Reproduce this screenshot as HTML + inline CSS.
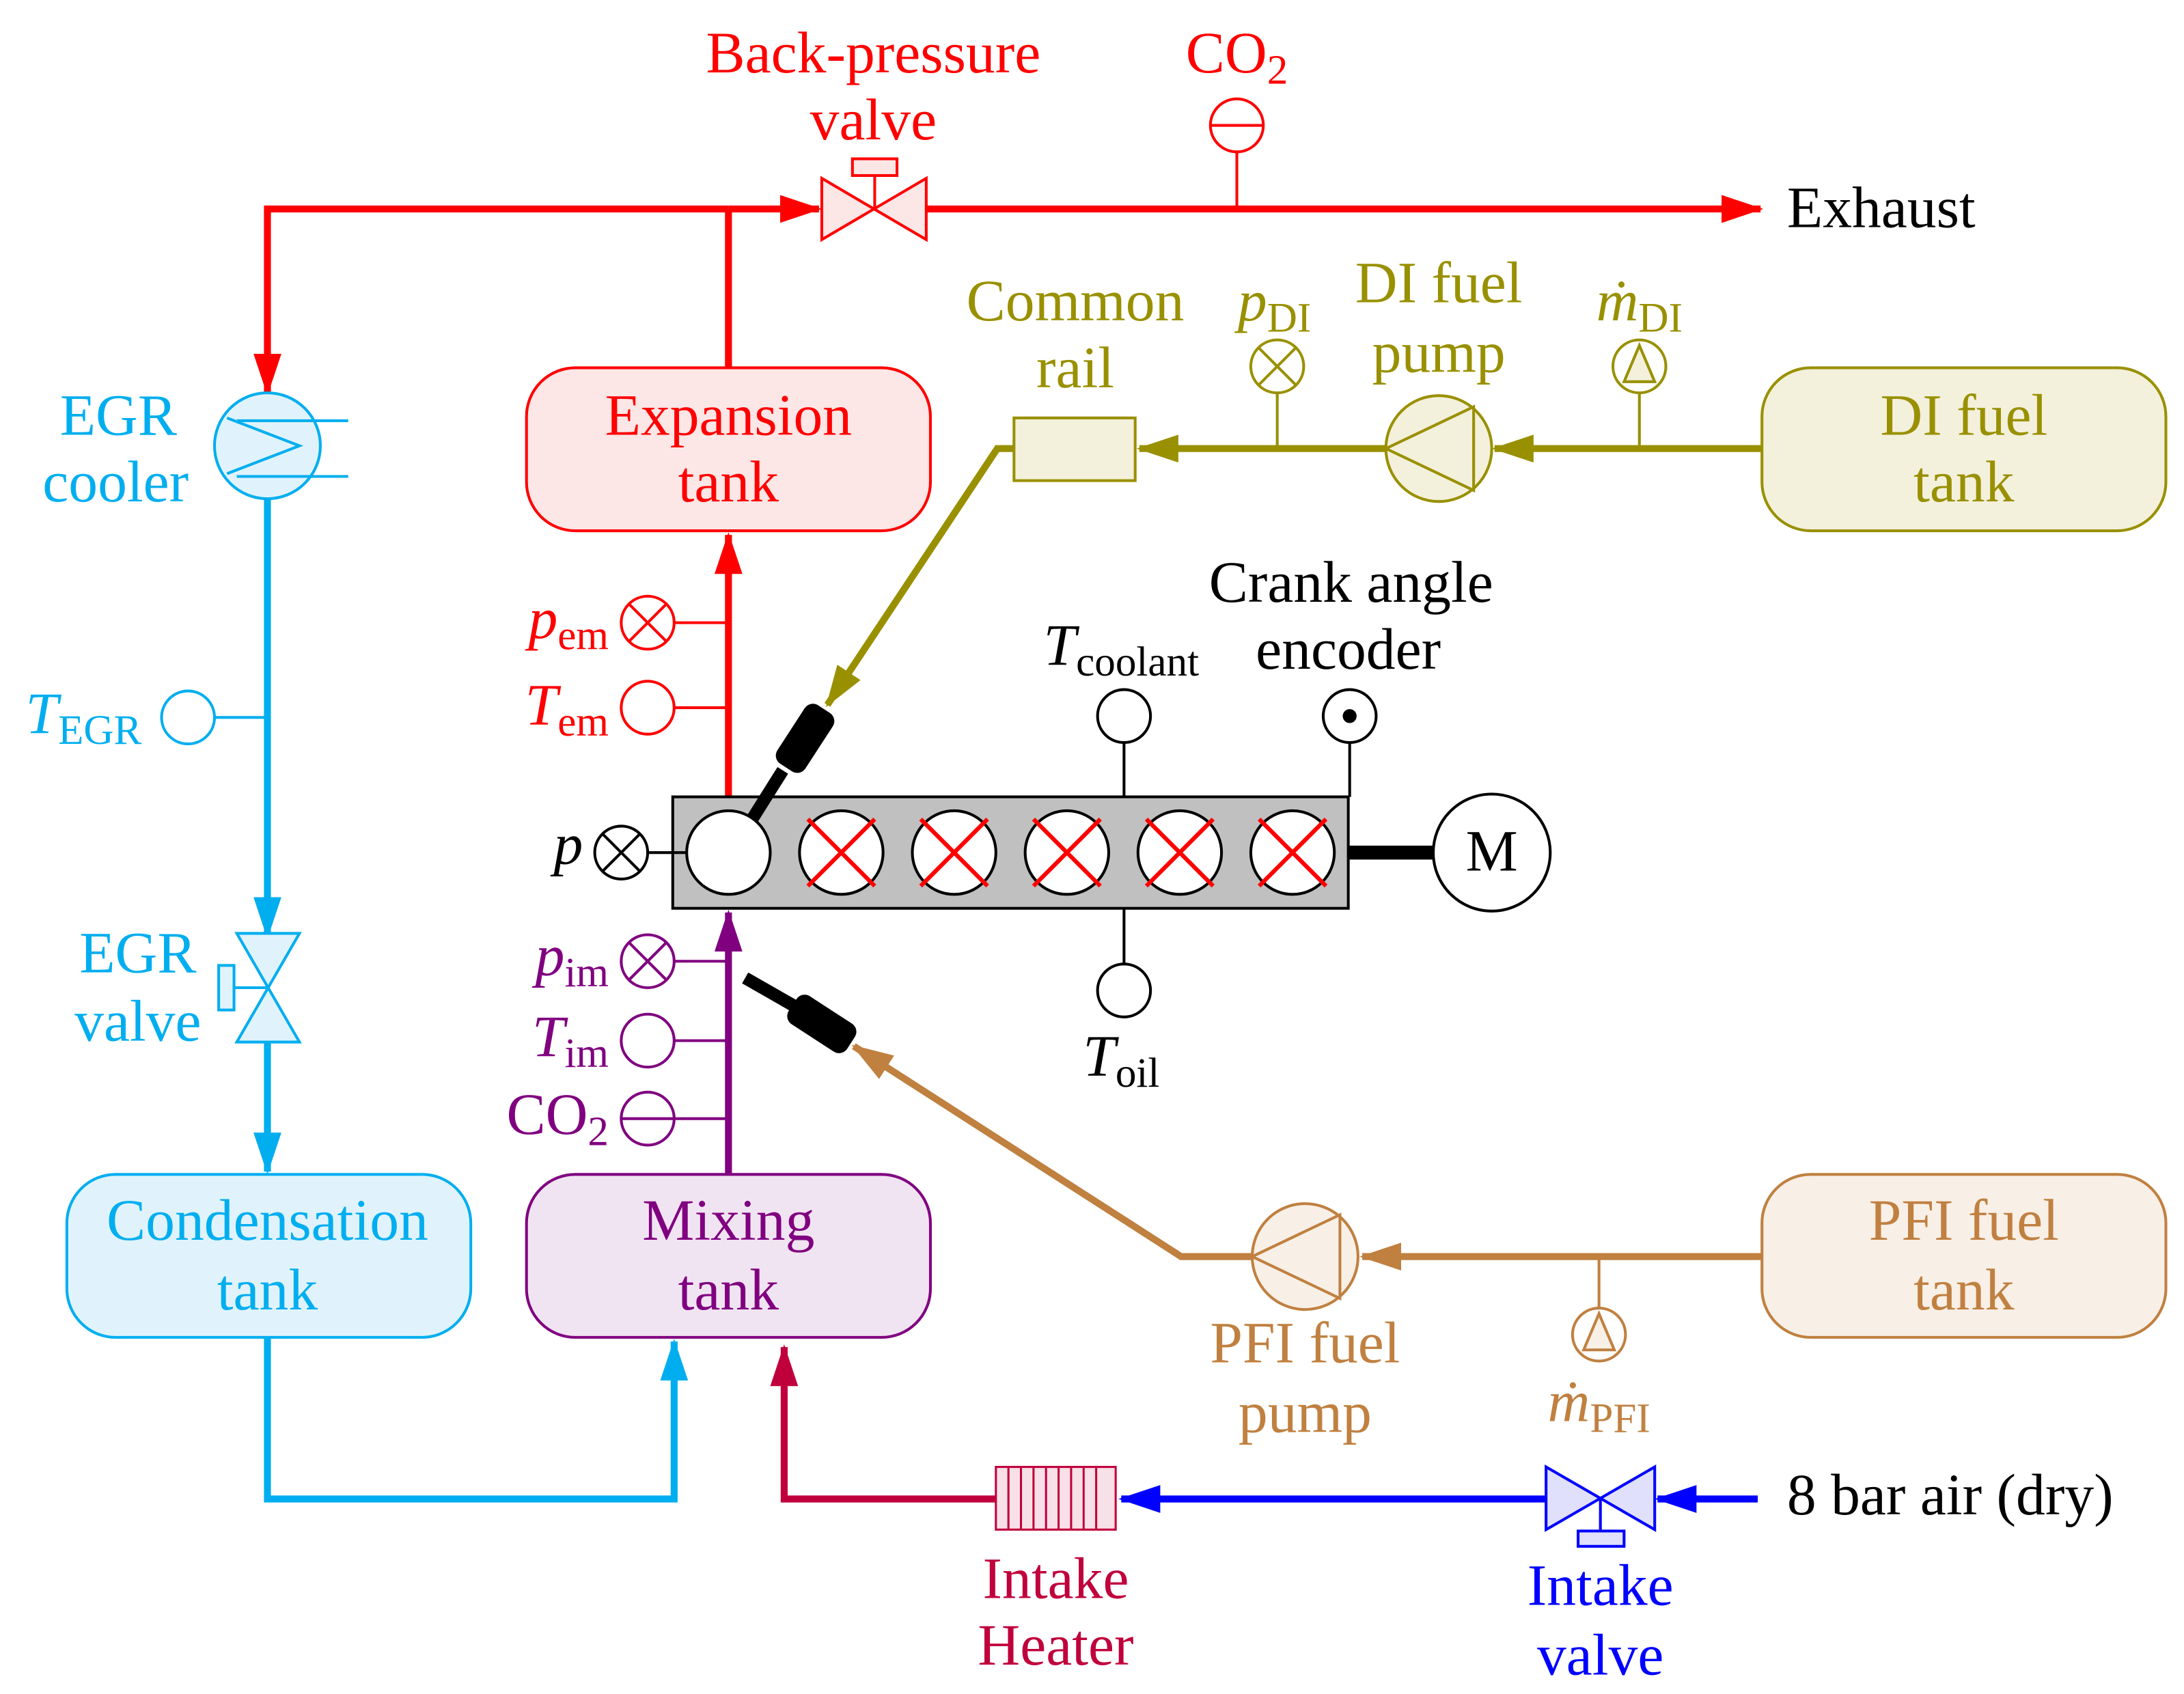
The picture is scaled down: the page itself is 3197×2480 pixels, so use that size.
<!DOCTYPE html>
<html><head><meta charset="utf-8"><style>
html,body{margin:0;padding:0;background:#fff}
svg{display:block}
text{font-family:"Liberation Serif",serif;font-size:42px}
</style></head><body>
<svg width="3197" height="2480" viewBox="0 0 1568 1216" preserveAspectRatio="none" xmlns="http://www.w3.org/2000/svg">
<defs>
<marker id="aR" markerUnits="userSpaceOnUse" markerWidth="30" markerHeight="22" refX="28" refY="10" orient="auto"><path d="M0,0L30,10L0,20z" fill="#ff0000"/></marker>
<marker id="aO" markerUnits="userSpaceOnUse" markerWidth="30" markerHeight="22" refX="28" refY="10" orient="auto"><path d="M0,0L30,10L0,20z" fill="#999000"/></marker>
<marker id="aP" markerUnits="userSpaceOnUse" markerWidth="30" markerHeight="22" refX="28" refY="10" orient="auto"><path d="M0,0L30,10L0,20z" fill="#800080"/></marker>
<marker id="aB" markerUnits="userSpaceOnUse" markerWidth="30" markerHeight="22" refX="28" refY="10" orient="auto"><path d="M0,0L30,10L0,20z" fill="#c08040"/></marker>
<marker id="aC" markerUnits="userSpaceOnUse" markerWidth="30" markerHeight="22" refX="28" refY="10" orient="auto"><path d="M0,0L30,10L0,20z" fill="#00aeef"/></marker>
<marker id="aM" markerUnits="userSpaceOnUse" markerWidth="30" markerHeight="22" refX="28" refY="10" orient="auto"><path d="M0,0L30,10L0,20z" fill="#c0003c"/></marker>
<marker id="aU" markerUnits="userSpaceOnUse" markerWidth="30" markerHeight="22" refX="28" refY="10" orient="auto"><path d="M0,0L30,10L0,20z" fill="#0000ff"/></marker>
</defs>

<!-- RED exhaust -->
<g stroke="#ff0000" stroke-width="5" fill="none">
<path d="M523,150H192V282" marker-end="url(#aR)"/>
<path d="M523,150H588" marker-end="url(#aR)"/>
<path d="M665,150H1264" marker-end="url(#aR)"/>
<path d="M523,150V265"/>
<path d="M523,572V384" marker-end="url(#aR)"/>
</g>
<g stroke="#ff0000" stroke-width="2" fill="#fde6e6">
<path d="M590,128L665,172V128L590,172z"/>
<rect x="612" y="114" width="32" height="12"/>
<line x1="628" y1="126" x2="628" y2="150"/>
<circle cx="888" cy="90" r="19" fill="#fff"/><line x1="869" y1="90" x2="907" y2="90"/><line x1="888" y1="109" x2="888" y2="150"/>
<rect x="378" y="264" width="290" height="117" rx="35"/>
<circle cx="465" cy="447" r="19" fill="#fff"/><path d="M452,434L478,460M478,434L452,460M484,447H523"/>
<circle cx="465" cy="508" r="19" fill="#fff"/><path d="M484,508H523"/>
</g>
<g fill="#ff0000" text-anchor="middle">
<text x="627" y="52">Back-pressure</text><text x="627" y="100">valve</text>
<text x="888" y="52">CO<tspan font-size="30" dy="8">2</tspan></text>
<text x="523" y="312">Expansion</text><text x="523" y="360">tank</text>
<text x="437" y="458" text-anchor="end"><tspan font-style="italic">p</tspan><tspan font-size="30" dy="8">em</tspan></text>
<text x="437" y="520" text-anchor="end"><tspan font-style="italic">T</tspan><tspan font-size="30" dy="8">em</tspan></text>
</g>
<text x="1283" y="163">Exhaust</text>

<!-- OLIVE DI -->
<g stroke="#999000" stroke-width="5" fill="none">
<path d="M1265,322H1073" marker-end="url(#aO)"/>
<path d="M995,322H818" marker-end="url(#aO)"/>
<path d="M728,322H716L594,506" marker-end="url(#aO)"/>
</g>
<g stroke="#999000" stroke-width="2" fill="#f3f0dc">
<rect x="728" y="300" width="87" height="45"/>
<circle cx="1033" cy="322" r="38"/><path d="M995,322L1058,292V352z"/>
<circle cx="917" cy="263" r="19" fill="#fff"/><path d="M904,250L930,276M930,250L904,276M917,282V322"/>
<circle cx="1177" cy="263" r="19" fill="#fff"/><path d="M1177,248L1188,274H1166z M1177,282V322"/>
<rect x="1265" y="264" width="290" height="117" rx="35"/>
</g>
<g fill="#999000" text-anchor="middle">
<text x="772" y="230">Common</text><text x="772" y="278">rail</text>
<text x="1033" y="217">DI fuel</text><text x="1033" y="267">pump</text>
<text x="915" y="230"><tspan font-style="italic">p</tspan><tspan font-size="30" dy="8">DI</tspan></text>
<text x="1177" y="230"><tspan font-style="italic">ṁ</tspan><tspan font-size="30" dy="8">DI</tspan></text>
<text x="1410" y="312">DI fuel</text><text x="1410" y="360">tank</text>
</g>

<!-- ENGINE -->
<rect x="483" y="572" width="485" height="80" fill="#c0c0c0" stroke="#000" stroke-width="2"/>
<g stroke="#000" stroke-width="2" fill="#fff">
<circle cx="523" cy="612" r="30"/>
<circle cx="604" cy="612" r="30"/><circle cx="685" cy="612" r="30"/><circle cx="766" cy="612" r="30"/><circle cx="847" cy="612" r="30"/><circle cx="928" cy="612" r="30"/>
<circle cx="446" cy="612" r="19"/><path d="M433,599L459,625M459,599L433,625M465,612H493"/>
<circle cx="807" cy="514" r="19"/><path d="M807,533V572"/>
<circle cx="969" cy="514" r="19"/><path d="M969,533V572"/>
<circle cx="807" cy="711" r="19"/><path d="M807,652V692"/>
<circle cx="1071" cy="612" r="42"/>
</g>
<circle cx="969" cy="514" r="5" fill="#000"/>
<line x1="968" y1="612" x2="1029" y2="612" stroke="#000" stroke-width="10"/>
<g stroke="#ff0000" stroke-width="3">
<path d="M580,588L628,636M628,588L580,636M661,588L709,636M709,588L661,636M742,588L790,636M790,588L742,636M823,588L871,636M871,588L823,636M904,588L952,636M952,588L904,636"/>
</g>
<!-- injectors -->
<line x1="540" y1="588" x2="562" y2="553" stroke="#000" stroke-width="9"/>
<rect x="-12" y="-25" width="24" height="50" rx="7" fill="#000" transform="translate(578,530) rotate(33)"/>
<line x1="535" y1="702" x2="570" y2="722" stroke="#000" stroke-width="9"/>
<rect x="-25" y="-12" width="50" height="24" rx="7" fill="#000" transform="translate(590,735) rotate(33)"/>
<g text-anchor="middle">
<text x="970" y="432">Crank angle</text><text x="968" y="480">encoder</text>
<text x="805" y="477"><tspan font-style="italic">T</tspan><tspan font-size="30" dy="8">coolant</tspan></text>
<text x="805" y="772"><tspan font-style="italic">T</tspan><tspan font-size="30" dy="8">oil</tspan></text>
<text x="1071" y="625">M</text>
</g>
<text x="408" y="620" text-anchor="middle" font-style="italic">p</text>

<!-- PURPLE -->
<path d="M523,843V655" stroke="#800080" stroke-width="5" fill="none" marker-end="url(#aP)"/>
<g stroke="#800080" stroke-width="2" fill="#fff">
<circle cx="465" cy="690" r="19"/><path d="M452,677L478,703M478,677L452,703M484,690H523"/>
<circle cx="465" cy="747" r="19"/><path d="M484,747H523"/>
<circle cx="465" cy="803" r="19"/><path d="M446,803H523"/>
<rect x="378" y="843" width="290" height="117" rx="35" fill="#f1e4f2"/>
</g>
<g fill="#800080" text-anchor="end">
<text x="437" y="700"><tspan font-style="italic">p</tspan><tspan font-size="30" dy="8">im</tspan></text>
<text x="437" y="758"><tspan font-style="italic">T</tspan><tspan font-size="30" dy="8">im</tspan></text>
<text x="437" y="814">CO<tspan font-size="30" dy="8">2</tspan></text>
<text x="523" y="890" text-anchor="middle">Mixing</text><text x="523" y="940" text-anchor="middle">tank</text>
</g>

<!-- BROWN PFI -->
<g stroke="#c08040" stroke-width="5" fill="none">
<path d="M1265,902H978" marker-end="url(#aB)"/>
<path d="M899,902H848L613,751" marker-end="url(#aB)"/>
</g>
<g stroke="#c08040" stroke-width="2" fill="#f8efe6">
<circle cx="937" cy="902" r="38"/><path d="M899,902L962,872V932z"/>
<circle cx="1148" cy="958" r="19" fill="#fff"/><path d="M1148,943L1159,969H1137z M1148,939V902"/>
<rect x="1265" y="843" width="290" height="117" rx="35"/>
</g>
<g fill="#c08040" text-anchor="middle">
<text x="937" y="978">PFI fuel</text><text x="937" y="1028">pump</text>
<text x="1148" y="1020"><tspan font-style="italic">ṁ</tspan><tspan font-size="30" dy="8">PFI</tspan></text>
<text x="1410" y="890">PFI fuel</text><text x="1410" y="940">tank</text>
</g>

<!-- CYAN EGR -->
<g stroke="#00aeef" stroke-width="5" fill="none">
<path d="M192,358V672" marker-end="url(#aC)"/>
<path d="M192,748V841" marker-end="url(#aC)"/>
<path d="M192,960V1076H484V963" marker-end="url(#aC)"/>
</g>
<g stroke="#00aeef" stroke-width="2" fill="#e0f3fc">
<circle cx="192" cy="320" r="38"/>
<path d="M170,302H250M170,342H250M163,300L215,320L163,340" fill="none"/>
<circle cx="135" cy="515" r="19" fill="#fff"/><path d="M154,515H192"/>
<path d="M170,670H215L170,748H215z"/>
<rect x="157" y="693" width="11" height="32"/><path d="M168,709H192"/>
<rect x="48" y="843" width="290" height="117" rx="35"/>
</g>
<g fill="#00aeef" text-anchor="middle">
<text x="85" y="312">EGR</text><text x="83" y="360">cooler</text>
<text x="60" y="526" text-anchor="middle"><tspan font-style="italic">T</tspan><tspan font-size="30" dy="8">EGR</tspan></text>
<text x="99" y="698">EGR</text><text x="99" y="747">valve</text>
<text x="192" y="890">Condensation</text><text x="192" y="940">tank</text>
</g>

<!-- CRIMSON heater -->
<path d="M715,1076H563V967" stroke="#c0003c" stroke-width="5" fill="none" marker-end="url(#aM)"/>
<g stroke="#c0003c" stroke-width="1.5" fill="#f7e0e8">
<rect x="715" y="1053" width="86" height="45"/>
<path d="M724,1053V1098M733,1053V1098M742,1053V1098M751,1053V1098M760,1053V1098M769,1053V1098M778,1053V1098M787,1053V1098"/>
</g>
<g fill="#c0003c" text-anchor="middle"><text x="758" y="1147">Intake</text><text x="758" y="1195">Heater</text></g>

<!-- BLUE air -->
<g stroke="#0000ff" stroke-width="5" fill="none">
<path d="M1262,1076H1190" marker-end="url(#aU)"/>
<path d="M1110,1076H805" marker-end="url(#aU)"/>
</g>
<g stroke="#0000ff" stroke-width="2" fill="#e0e0fc">
<path d="M1110,1053L1188,1098V1053L1110,1098z"/>
<rect x="1133" y="1099" width="33" height="11"/><path d="M1149,1076V1099"/>
</g>
<g fill="#0000ff" text-anchor="middle"><text x="1149" y="1152">Intake</text><text x="1149" y="1202">valve</text></g>
<text x="1283" y="1087">8 bar air (dry)</text>
</svg>
</body></html>
